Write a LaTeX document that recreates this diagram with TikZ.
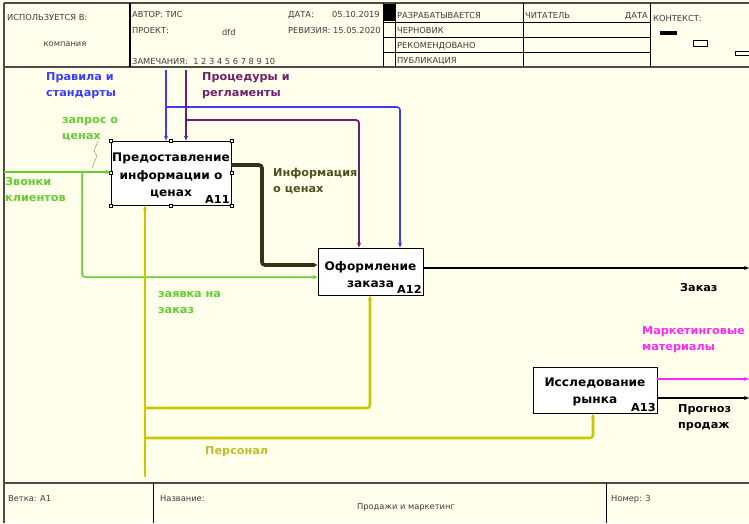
\documentclass[tikz,border=0pt]{standalone}
\usepackage{fontspec}
\setmainfont{DejaVu Sans}
\newfontfamily\labfont[FakeStretch=1.03]{DejaVu Sans}
\usetikzlibrary{arrows.meta}
\definecolor{bgc}{RGB}{255,255,236}
\definecolor{hdrtxt}{RGB}{60,60,60}
\definecolor{cblue}{RGB}{60,60,255}
\definecolor{cpurple}{RGB}{110,30,110}
\definecolor{cgreen}{RGB}{100,205,50}
\definecolor{colive}{RGB}{50,50,20}
\definecolor{colivetxt}{RGB}{80,80,30}
\definecolor{cyellow}{RGB}{200,200,0}
\definecolor{cyellowtxt}{RGB}{190,190,40}
\definecolor{cmagenta}{RGB}{255,40,255}
\tikzset{
  hdr/.style={font=\fontsize{8.3}{9}\selectfont, text=hdrtxt, inner sep=0pt},
  frame/.style={draw=black!70, line width=1.2pt},
  cell/.style={draw=black, line width=0.9pt},
  actbox/.style={draw=black, line width=0.8pt, fill=white, inner sep=0pt},
  boxtxt/.style={font=\labfont\bfseries\fontsize{11.8}{17.5}\selectfont, align=center, inner sep=0pt},
  boxid/.style={font=\labfont\bfseries\fontsize{11}{12}\selectfont, inner sep=1.5pt, anchor=south east},
  lab/.style={font=\labfont\bfseries\fontsize{10.9}{16.5}\selectfont, align=left, inner sep=0pt, anchor=north west},
  arr/.style={-{Stealth[length=5pt,width=4pt]}, rounded corners=3pt},
  handle/.style={draw=black, fill=white, line width=0.4pt, minimum size=3pt, inner sep=0pt},
}
\begin{document}
\begin{tikzpicture}[x=1pt,y=-1pt]
\useasboundingbox (0,0) rectangle (749,523);
\fill[bgc] (0,0) rectangle (749,523);

% ---------- header ----------
\draw[frame] (4,3) -- (749,3);
\draw[frame] (4,67) -- (749,67);
\draw[frame] (4,3) -- (4,523);
\draw[cell, line width=1.3pt] (130,3) -- (130,67);
\draw[cell] (383,3) -- (383,67);
\draw[cell] (395,3) -- (395,67);
\draw[cell] (523,3) -- (523,67);
\draw[cell] (650,3) -- (650,67);
\draw[cell, line width=0.6pt] (383,22) -- (650,22);
\draw[cell, line width=0.6pt] (383,37) -- (650,37);
\draw[cell, line width=0.6pt] (383,52) -- (650,52);
\fill[black] (383,4) rectangle (395,21);

\node[hdr, anchor=base west] (h1) at (7,20) {ИСПОЛЬЗУЕТСЯ В:};
\node[hdr, anchor=base] (h2) at (65,46) {компания};
\node[hdr, anchor=base west] (h3) at (132,17) {АВТОР: ТИС};
\node[hdr, anchor=base west] (h4) at (288,17) {ДАТА:};
\node[hdr, anchor=base west] (h5) at (332,17) {05.10.2019};
\node[hdr, anchor=base west] (h6) at (132,33) {ПРОЕКТ:};
\node[hdr, anchor=base west] (h7) at (222,35) {dfd};
\node[hdr, anchor=base west] (h8) at (288,33) {РЕВИЗИЯ: 15.05.2020};
\node[hdr, anchor=base west] (h9) at (132,64) {ЗАМЕЧАНИЯ:\ \ 1 2 3 4 5 6 7 8 9 10};
\node[hdr, anchor=base west] (h10) at (397,18) {РАЗРАБАТЫВАЕТСЯ};
\node[hdr, anchor=base west] (h11) at (397,33) {ЧЕРНОВИК};
\node[hdr, anchor=base west] (h12) at (397,48) {РЕКОМЕНДОВАНО};
\node[hdr, anchor=base west] (h13) at (397,63) {ПУБЛИКАЦИЯ};
\node[hdr, anchor=base west] (h14) at (525,18) {ЧИТАТЕЛЬ};
\node[hdr, anchor=base east] (h15) at (648,18) {ДАТА};
\node[hdr, anchor=base west] (h16) at (653,21) {КОНТЕКСТ:};
\fill[black] (660,31) rectangle (677,34.5);
\draw[line width=0.6pt] (693,40) rectangle (707,46);
\draw[line width=0.6pt] (735,51) rectangle (749,55);

% ---------- footer ----------
\draw[frame] (4,483) -- (749,483);
\draw[cell] (153,483) -- (153,523);
\draw[cell] (606,483) -- (606,523);
\node[hdr, anchor=base west] (f1) at (8,501) {Ветка: А1};
\node[hdr, anchor=base west] (f2) at (160,501) {Название:};
\node[hdr, anchor=base] (f3) at (406,509) {Продажи и маркетинг};
\node[hdr, anchor=base west] (f4) at (611,501) {Номер: 3};

% ---------- activity boxes ----------
\node[actbox, minimum width=120pt, minimum height=64pt] (A11) at (171,173) {};
\node[boxtxt] (A11t) at ([yshift=-3pt]A11.center) {Предоставление\\информации о\\ценах};
\node[boxid] (A11n) at (A11.south east) {A11};
\foreach \p in {north west, north, north east, west, east, south west, south, south east}
  \node[handle] at (A11.\p) {};

\node[actbox, minimum width=105pt, minimum height=47pt] (A12) at (370.5,271.5) {};
\node[boxtxt] (A12t) at ([yshift=-3pt]A12.center) {Оформление\\заказа};
\node[boxid] (A12n) at (A12.south east) {A12};

\node[actbox, minimum width=124pt, minimum height=46pt] (A13) at (595,390) {};
\node[boxtxt] (A13t) at ([yshift=-2pt]A13.center) {Исследование\\рынка};
\node[boxid] (A13n) at (A13.south east) {A13};

% ---------- coordinates ----------
\coordinate (bTop) at (166,70);
\coordinate (bJ) at (166,107);
\coordinate (bR) at (400,107);
\coordinate (pTop) at (186,70);
\coordinate (pJ) at (186,120);
\coordinate (pR) at (359,120);
\coordinate (gL) at (4,172);
\coordinate (gJ) at (82,172);
\coordinate (gB) at (82,277);
\coordinate (oR) at (262,165);
\coordinate (oB) at (262,265);
\coordinate (yB) at (145,477);
\coordinate (y1) at (145,408);
\coordinate (y1R) at (370,408);
\coordinate (y2) at (145,438);
\coordinate (y2R) at (593,438);
\coordinate (eZ) at (749,268);
\coordinate (eM) at (749,379);
\coordinate (eP) at (749,398);

% ---------- connectors ----------
% blue controls
\draw[cblue, line width=2pt, arr] (bTop) -- (bTop |- A11.north);
\draw[cblue, line width=1.6pt, arr] (bJ) -- (bR) -- (bR |- A12.north);
% purple controls
\draw[cpurple, line width=2.2pt, arr] (pTop) -- (pTop |- A11.north);
\draw[cpurple, line width=1.8pt, arr] (pJ) -- (pR) -- (pR |- A12.north);
% green inputs
\draw[cgreen, line width=2.6pt, arr] (gL) -- (gL -| A11.west);
\draw[cgreen, line width=1.5pt, arr] (gJ) -- (gB) -- (gB -| A12.west);
\draw[cgreen!80!black, line width=0.4pt] (98,141) -- (94,151) -- (97,156) -- (92,168);
% olive info
\draw[colive, line width=3.6pt, arr] (A11.east |- oR) -- (oR) -- (oB) -- (oB -| A12.west);
% yellow mechanisms
\draw[cyellow, line width=2.6pt, arr] (yB) -- (yB |- A11.south);
\draw[cyellow, line width=2.6pt, arr] (y1) -- (y1R) -- (y1R |- A12.south);
\draw[cyellow, line width=2.6pt, arr] (y2) -- (y2R) -- (y2R |- A13.south);
% outputs
\draw[black, line width=1.3pt, arr] (A12.east |- eZ) -- (eZ);
\draw[cmagenta, line width=1.8pt, arr] (A13.east |- eM) -- (eM);
\draw[black, line width=1.3pt, arr] (A13.east |- eP) -- (eP);

% ---------- labels ----------
\node[lab, text=cblue] (l1) at (46,72) {Правила и\\стандарты};
\node[lab, text=cpurple] (l2) at (202,72) {Процедуры и\\регламенты};
\node[lab, text=cgreen] (l3) at (62,117) {запрос о\\ценах};
\node[lab, text=cgreen] (l4) at (5,177) {Звонки\\клиентов};
\node[lab, text=colivetxt] (l5) at (273,168) {Информация\\о ценах};
\node[lab, text=cgreen] (l6) at (158,291) {заявка на\\заказ};
\node[lab, text=cyellowtxt] (l7) at (205,446) {Персонал};
\node[lab, text=black] (l8) at (680,283) {Заказ};
\node[lab, text=cmagenta] (l9) at (642,326) {Маркетинговые\\материалы};
\node[lab, text=black] (l10) at (678,404) {Прогноз\\продаж};
\end{tikzpicture}
\end{document}
